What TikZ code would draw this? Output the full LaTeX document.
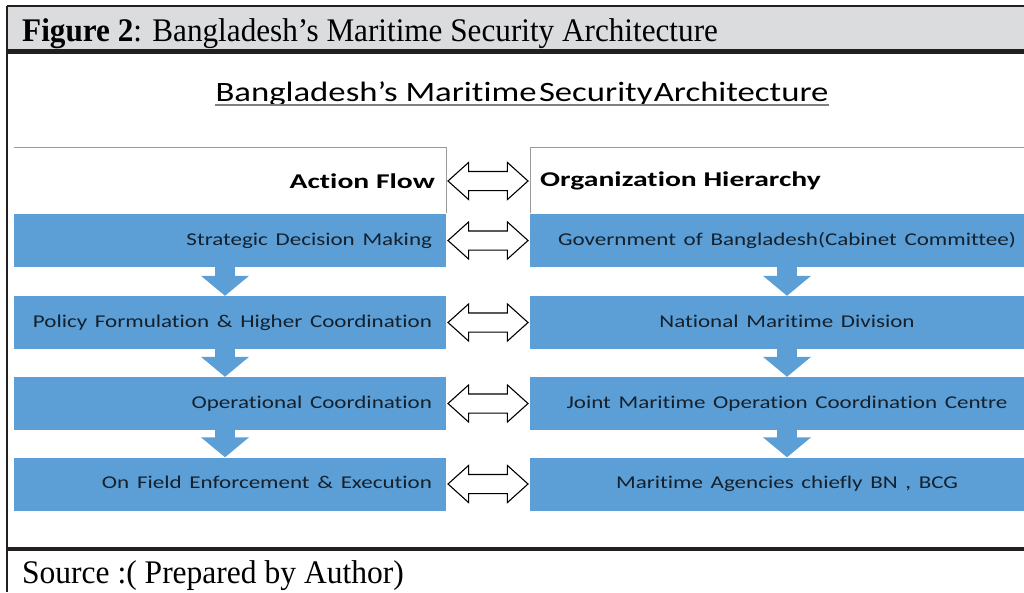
\documentclass[tikz,border=0pt]{standalone}
\usepackage{fontspec}
\setmainfont{Liberation Serif}
\newfontfamily\calfont[Ligatures=NoCommon]{Carlito}
\usetikzlibrary{shapes.arrows,calc,arrows.meta}
\definecolor{boxblue}{HTML}{5B9FD6}
\definecolor{bandgray}{HTML}{DBDCDE}
\definecolor{darkline}{HTML}{231F20}
\definecolor{boxtext}{HTML}{14202C}
\definecolor{outlinegray}{HTML}{9A9A9A}
\newcommand{\rowtxt}[1]{\scalebox{1.28}[1]{#1}}
\newcommand{\hdrtxt}[1]{\scalebox{1.41}[1]{#1}}
\begin{document}
\begin{tikzpicture}[x=1pt,y=-1pt,
  lbox/.style={fill=boxblue,draw=none,minimum height=53pt,text width=404pt,inner xsep=14pt,inner ysep=0pt,text height=13pt,text depth=4pt,align=right,text=boxtext,font=\calfont\fontsize{18}{21}\selectfont},
  rbox/.style={fill=boxblue,draw=none,minimum height=53pt,text width=486pt,inner xsep=14pt,inner ysep=0pt,text height=13pt,text depth=4pt,align=center,text=boxtext,font=\calfont\fontsize{18}{21}\selectfont},
  hdr/.style={font=\calfont\bfseries\fontsize{21}{24}\selectfont,inner sep=0pt},
  dbl/.style={double arrow,draw=black,fill=white,line width=1.1pt,minimum height=80pt,inner xsep=0pt,inner ysep=9pt,double arrow head extend=9pt,double arrow tip angle=84},
  downarr/.style={draw=boxblue,line width=20pt,-{Triangle[width=47pt,length=20pt]}}
]
\useasboundingbox (0,0) rectangle (1024,592);
% frame
\fill[bandgray] (7,6) rectangle (1024,50);
\fill[darkline] (7,49) rectangle (1024,54);
\fill[darkline] (7,546.5) rectangle (1024,551);
\draw[darkline,line width=1.2pt] (7,6) -- (1024,6);
\draw[darkline,line width=1.4pt] (7,6) -- (7,592);
\node[anchor=base west,inner sep=0pt] (fig) at (22,41) {\scalebox{0.945}[1]{\fontsize{33}{36}\selectfont\textbf{Figure 2}: Bangladesh’s Maritime Security Architecture}};
\node[anchor=base west,inner sep=0pt] (src) at (22,583) {\scalebox{0.955}[1]{\fontsize{33}{36}\selectfont Source :( Prepared by Author)}};
% title
\node[inner sep=0pt,anchor=base] (title) at (522,101) {\scalebox{1.24}[1]{\calfont\fontsize{28}{30}\selectfont Bangladesh’s Maritime\hspace{2pt}Security\hspace{1pt}Architecture}};
\draw[gray,line width=1.3pt] ($(title.base west)+(0,4)$) -- ($(title.base east)+(0,4)$);
% header outlines
\draw[outlinegray,line width=0.8pt] (14,147) -- (446,147) -- (446,213);
\draw[outlinegray,line width=0.8pt] (1024,147) -- (530,147) -- (530,213);
\node[hdr,anchor=east] (AF) at (435,181) {\hdrtxt{Action Flow}};
\node[hdr,anchor=west] (OH) at (540,181) {\hdrtxt{Organization Hierarchy}};
% rows
\node[lbox] (L1) at (230,240.5) {\rowtxt{Strategic Decision Making}};
\node[lbox] (L2) at (230,322.5) {\rowtxt{Policy Formulation \& Higher Coordination}};
\node[lbox] (L3) at (230,403.5) {\rowtxt{Operational Coordination}};
\node[lbox] (L4) at (230,484) {\rowtxt{On Field Enforcement \& Execution}};
\node[rbox] (R1) at (787,240.5) {\rowtxt{Government of Bangladesh(Cabinet Committee)}};
\node[rbox] (R2) at (787,322.5) {\rowtxt{National Maritime Division}};
\node[rbox] (R3) at (787,403.5) {\rowtxt{Joint Maritime Operation Coordination Centre}};
\node[rbox] (R4) at (787,484) {\rowtxt{Maritime Agencies chiefly BN , BCG}};
% down arrows
\draw[downarr] ([xshift=-5pt]L1.south) -- ([xshift=-5pt]L2.north);
\draw[downarr] ([xshift=-5pt]L2.south) -- ([xshift=-5pt]L3.north);
\draw[downarr] ([xshift=-5pt]L3.south) -- ([xshift=-5pt]L4.north);
\draw[downarr] (R1.south) -- (R2.north);
\draw[downarr] (R2.south) -- (R3.north);
\draw[downarr] (R3.south) -- (R4.north);
% double arrows
\coordinate (h1) at (446,181);
\coordinate (h2) at (530,181);
\node[dbl] (D0) at ($(h1)!0.5!(h2)$) {};
\node[dbl] (D1) at ($(L1.east)!0.5!(R1.west)$) {};
\node[dbl] (D2) at ($(L2.east)!0.5!(R2.west)$) {};
\node[dbl] (D3) at ($(L3.east)!0.5!(R3.west)$) {};
\node[dbl] (D4) at ($(L4.east)!0.5!(R4.west)$) {};
\end{tikzpicture}
\end{document}
